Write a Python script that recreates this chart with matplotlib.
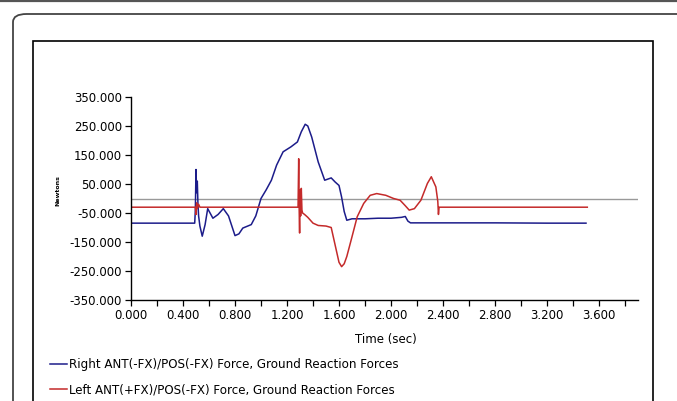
import numpy as np
import matplotlib.pyplot as plt
import matplotlib
from matplotlib.patches import FancyBboxPatch, Rectangle
from matplotlib.lines import Line2D

matplotlib.rcParams['font.family'] = ['DejaVu Sans']

# Right ANT(-FX)/POS(-FX) force (blue)
right_t = [0, 0.49, 0.495, 0.50, 0.505, 0.51, 0.515, 0.52, 0.53, 0.548, 0.57, 0.59,
           0.63, 0.67, 0.71, 0.75, 0.80, 0.83, 0.86, 0.925, 0.96, 1.00, 1.04, 1.08,
           1.12, 1.17, 1.23, 1.28, 1.31, 1.34, 1.36, 1.39, 1.44, 1.49, 1.54, 1.57,
           1.60, 1.62, 1.64, 1.66, 1.70, 1.80, 1.90, 2.00, 2.08, 2.11, 2.13, 2.15,
           2.40, 2.80, 3.20, 3.50]
right_v = [-85, -85, -40, 100, 20, 60, -20, -60, -95, -130, -90, -35,
           -68, -55, -35, -60, -128, -122, -102, -90, -60, 0, 30, 63,
           115, 161, 178, 195, 230, 256, 250, 212, 126, 63, 71, 57,
           45, 5, -45, -75, -70, -70, -68, -68, -65, -62, -78, -84,
           -84, -84, -85, -85]

# Left ANT(+FX)/POS(-FX) force (red)
left_t = [0, 0.495, 0.50, 0.505, 0.51, 0.52, 0.53, 0.54, 1.285, 1.29, 1.293, 1.297,
          1.30, 1.305, 1.31, 1.315, 1.32, 1.335, 1.36, 1.40, 1.44, 1.50, 1.54, 1.56,
          1.58, 1.60, 1.62, 1.64, 1.66, 1.70, 1.74, 1.79, 1.84, 1.89, 1.96, 2.02,
          2.07, 2.11, 2.14, 2.18, 2.23, 2.28, 2.31, 2.345, 2.36, 2.365, 2.37, 2.38,
          2.40, 3.51]
left_v = [-30, -30, -55, -15, -35, -20, -30, -30, -30, 137, -20, -119,
          30, -60, 35, -40, -50, -55, -65, -85, -93, -95, -100, -140,
          -180, -220, -235, -225, -200, -132, -63, -17, 11, 17, 11, 0,
          -6, -25, -40, -35, -6, 52, 75, 40, -10, -55, -30, -30,
          -30, -30]

labels = ['Right ANT(-FX)/POS(-FX) Force, Ground Reaction Forces',
          'Left ANT(+FX)/POS(-FX) Force, Ground Reaction Forces']
x_ticks = np.round(np.arange(0, 3.81, 0.2), 1)
y_ticks = [-350, -250, -150, -50, 50, 150, 250, 350]

W, H = 677, 401
fig = plt.figure(figsize=(W / 100, H / 100), dpi=100)

# frames (pixel coords -> figure fraction)
def fx(px): return px / W
def fy(py): return 1 - py / H

fig.add_artist(Line2D([0, 1], [fy(0.8), fy(0.8)], color='#555555', lw=1.6))
fig.add_artist(FancyBboxPatch((fx(13), fy(420)), fx(700), fy(14) - fy(420),
                              boxstyle='round,pad=0,rounding_size=0.02',
                              fc='none', ec='#444444', lw=1.3))
fig.add_artist(Rectangle((fx(33), fy(420)), fx(653) - fx(33), fy(41) - fy(420),
                         fc='none', ec='black', lw=1.2))

ax = fig.add_axes([fx(131), fy(300), fx(638) - fx(131), fy(97) - fy(300)])
ax.axhline(0, color='#999999', lw=1.0, zorder=1)
l1, = ax.plot(right_t, right_v, color='#1c1c8a', lw=1.1)
l2, = ax.plot(left_t, left_v, color='#c42a2a', lw=1.1)

ax.set_xlim(0, 3.9)
ax.set_ylim(-350, 350)
ax.set_xticks(x_ticks)
ax.set_xticklabels(['%.3f' % t if i % 2 == 0 else '' for i, t in enumerate(x_ticks)])
ax.set_yticks(y_ticks)
ax.set_yticklabels(['%.3f' % v for v in y_ticks])
ax.tick_params(labelsize=8.5, length=4.5, width=0.9, pad=2)
for s in ['top', 'right']:
    ax.spines[s].set_visible(False)
for s in ['left', 'bottom']:
    ax.spines[s].set_linewidth(1.0)

fig.text(fx(386), fy(340), 'Time (sec)', fontsize=8.5, ha='center', va='center')
fig.text(fx(58), fy(191), 'Newtons', fontsize=4.5, rotation=90, ha='center',
         va='center', fontweight='bold')

fig.legend([l1, l2], labels, loc='upper left', bbox_to_anchor=(fx(50), fy(358)),
           frameon=False, fontsize=8.6, handlelength=1.45, handletextpad=0.12,
           labelspacing=1.05, borderpad=0, borderaxespad=0)

plt.savefig('out.png', dpi=100)
